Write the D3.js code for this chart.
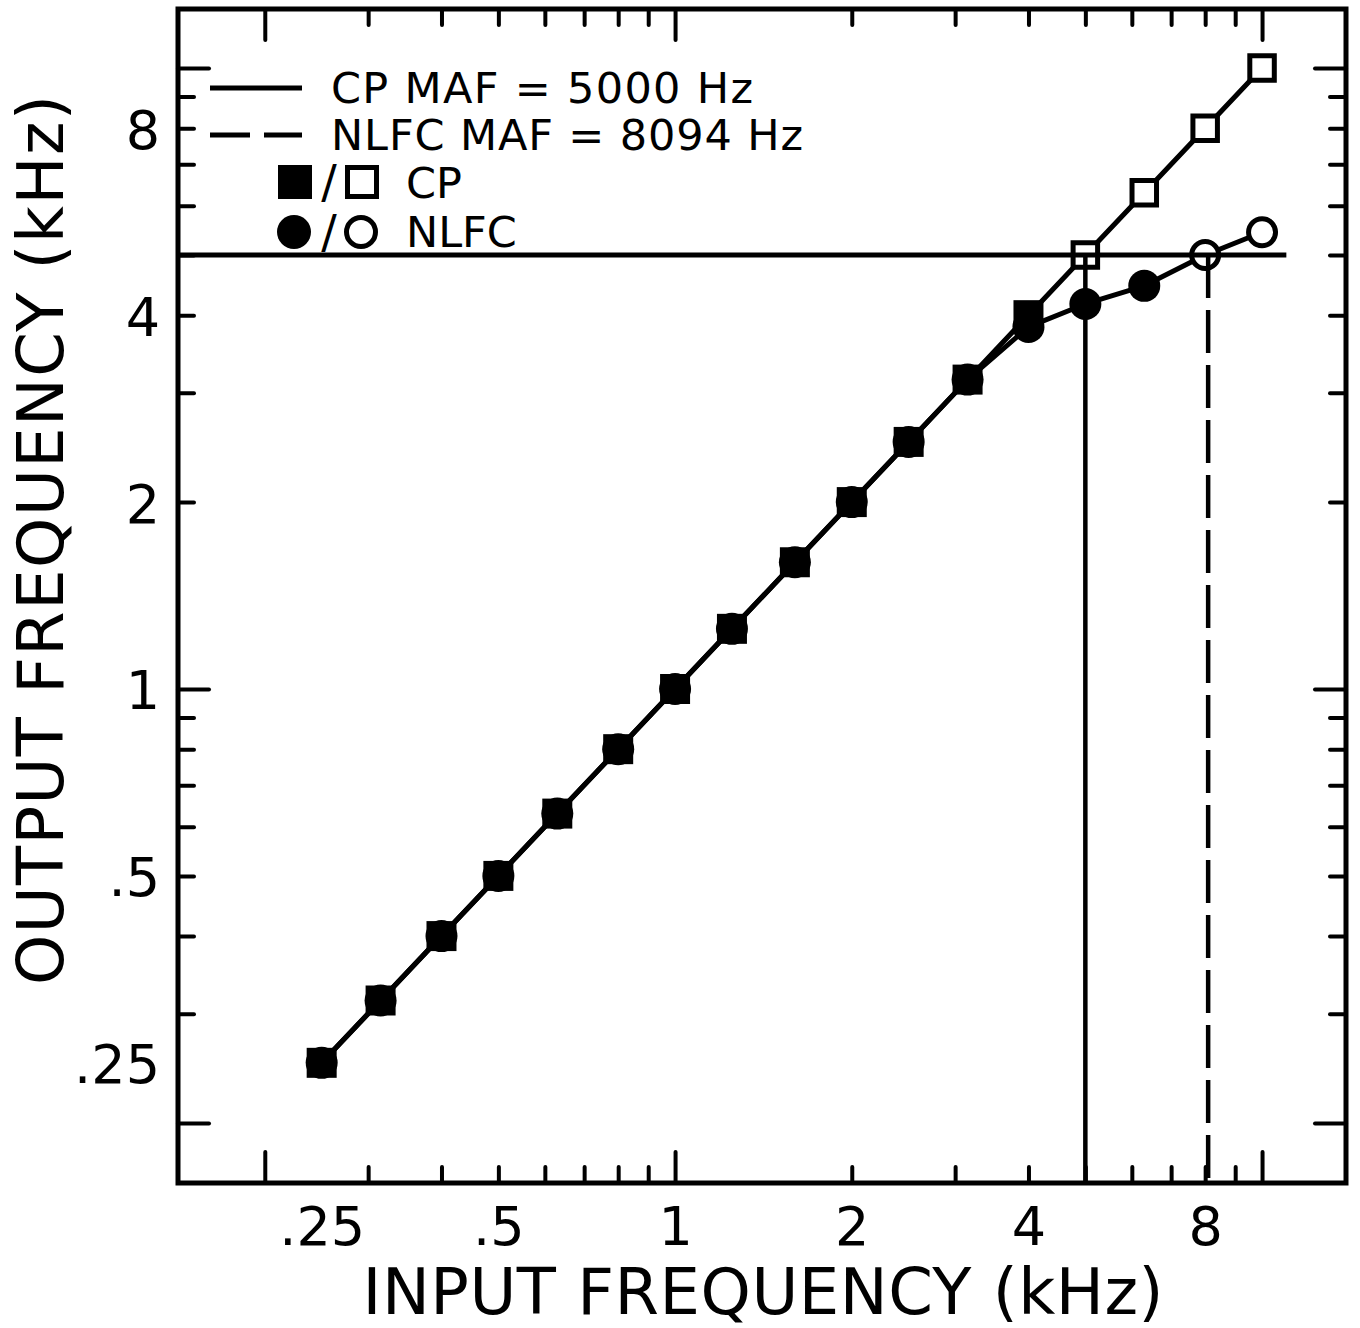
<!DOCTYPE html>
<html>
<head>
<meta charset="utf-8">
<script src="https://cdn.jsdelivr.net/npm/d3@7"></script>
<style>
  body { margin: 0; background: #fff; }
  text { font-family: 'DejaVu Sans', sans-serif; fill: #000; }
</style>
</head>
<body>
<div id="chart"></div>
<script>
// input frequencies (kHz), 1/3 octave
const inputFreq = [0.25, 0.315, 0.4, 0.5, 0.63, 0.8, 1, 1.25, 1.6, 2, 2.5, 3.15, 4, 5, 6.3, 8, 10]
// output frequencies (kHz)
const cpOutput = [0.25, 0.315, 0.4, 0.5, 0.63, 0.8, 1, 1.25, 1.6, 2, 2.5, 3.15, 4, 5, 6.3, 8, 10]
const nlfcOutput = [0.25, 0.315, 0.4, 0.5, 0.63, 0.8, 1, 1.25, 1.6, 2, 2.5, 3.15, 3.83, 4.17, 4.46, 5.0, 5.44]
// points from this input frequency on are drawn open
const cpOpenFrom = 5
const nlfcOpenFrom = 8

const cpMaf = 5
const nlfcMaf = 8.094
const refLineEnd = 11

const majorTicks = [0.2, 1, 10]
const minorTicks = [0.3, 0.4, 0.5, 0.6, 0.7, 0.8, 0.9, 2, 3, 4, 5, 6, 7, 8, 9]
const tickValues = [0.25, 0.5, 1, 2, 4, 8]
const tickLabels = ['.25', '.5', '1', '2', '4', '8']

const legendLines = ['CP MAF = 5000 Hz', 'NLFC MAF = 8094 Hz']
const legendSymbols = ['CP', 'NLFC']

const margin = { top: 9, left: 178, right: 14, bottom: 145 }
const width = 1360 - margin.left - margin.right
const height = 1328 - margin.top - margin.bottom

const svg = d3
  .select('#chart')
  .append('svg')
  .attr('width', 1360)
  .attr('height', 1328)

const g = svg
  .append('g')
  .attr('transform', 'translate(' + margin.left + ',' + margin.top + ')')

const x = d3.scaleLog().domain([0.14229, 13.9]).range([0, width])
const y = d3.scaleLog().domain([0.1601, 12.45]).range([height, 0])

const cp = inputFreq.map((f, i) => ({ f: f, o: cpOutput[i], open: f >= cpOpenFrom }))
const nlfc = inputFreq.map((f, i) => ({ f: f, o: nlfcOutput[i], open: f >= nlfcOpenFrom }))

// ticks on all four sides, pointing inwards
function ticks(axis, values, size, transform) {
  const a = g
    .append('g')
    .attr('transform', transform)
    .call(axis.tickValues(values).tickSize(-size).tickFormat(''))
  a.select('.domain').remove()
  a.selectAll('line')
    .attr('stroke', '#000')
    .attr('stroke-width', 4)
    .attr('stroke-linecap', 'round')
}
ticks(d3.axisBottom(x), majorTicks, 31, 'translate(0,' + height + ')')
ticks(d3.axisBottom(x), minorTicks, 16, 'translate(0,' + height + ')')
ticks(d3.axisTop(x), majorTicks, 31, 'translate(0,0)')
ticks(d3.axisTop(x), minorTicks, 16, 'translate(0,0)')
ticks(d3.axisLeft(y), majorTicks, 31, 'translate(0,0)')
ticks(d3.axisLeft(y), minorTicks, 16, 'translate(0,0)')
ticks(d3.axisRight(y), majorTicks, 31, 'translate(' + width + ',0)')
ticks(d3.axisRight(y), minorTicks, 16, 'translate(' + width + ',0)')

// tick labels
const xl = g
  .append('g')
  .attr('transform', 'translate(0,' + height + ')')
  .call(d3.axisBottom(x).tickValues(tickValues).tickSize(0).tickFormat((d, i) => tickLabels[i]))
xl.select('.domain').remove()
xl.selectAll('text')
  .attr('y', 62)
  .attr('dy', null)
  .style('font-size', '54px')
  .attr('fill', '#000')

const yl = g
  .append('g')
  .call(d3.axisLeft(y).tickValues(tickValues).tickSize(0).tickFormat((d, i) => tickLabels[i]))
yl.select('.domain').remove()
yl.selectAll('text')
  .attr('x', -18)
  .attr('y', 20)
  .attr('dy', null)
  .style('font-size', '54px')
  .attr('fill', '#000')

// frame
g.append('rect')
  .attr('width', width)
  .attr('height', height)
  .attr('fill', 'none')
  .attr('stroke', '#000')
  .attr('stroke-width', 5)

// data lines
const line = d3
  .line()
  .x(d => x(d.f))
  .y(d => y(d.o))

;[nlfc, cp].forEach(series => {
  g.append('path')
    .datum(series)
    .attr('d', line)
    .attr('fill', 'none')
    .attr('stroke', '#000')
    .attr('stroke-width', 5)
    .attr('stroke-linejoin', 'round')
})

// markers
const filledCircle = d3.symbol(d3.symbolCircle, Math.PI * 16 * 16)
const openCircle = d3.symbol(d3.symbolCircle, Math.PI * 13.5 * 13.5)
const filledSquare = d3.symbol(d3.symbolSquare, 30 * 30)
const openSquare = d3.symbol(d3.symbolSquare, 24.5 * 24.5)

g.selectAll('.nlfc')
  .data(nlfc)
  .enter()
  .append('path')
  .attr('class', 'nlfc')
  .attr('transform', d => 'translate(' + x(d.f) + ',' + y(d.o) + ')')
  .attr('d', d => (d.open ? openCircle() : filledCircle()))
  .attr('fill', d => (d.open ? '#fff' : '#000'))
  .attr('stroke', d => (d.open ? '#000' : 'none'))
  .attr('stroke-width', 5)

g.selectAll('.cp')
  .data(cp)
  .enter()
  .append('path')
  .attr('class', 'cp')
  .attr('transform', d => 'translate(' + x(d.f) + ',' + y(d.o) + ')')
  .attr('d', d => (d.open ? openSquare() : filledSquare()))
  .attr('fill', d => (d.open ? '#fff' : '#000'))
  .attr('stroke', d => (d.open ? '#000' : 'none'))
  .attr('stroke-width', 5)

// MAF reference lines
g.append('line')
  .attr('x1', 0)
  .attr('x2', x(refLineEnd))
  .attr('y1', y(cpMaf))
  .attr('y2', y(cpMaf))
  .attr('stroke', '#000')
  .attr('stroke-width', 5)

g.append('line')
  .attr('x1', x(cpMaf))
  .attr('x2', x(cpMaf))
  .attr('y1', y(cpMaf))
  .attr('y2', height)
  .attr('stroke', '#000')
  .attr('stroke-width', 4.5)

g.append('line')
  .attr('x1', x(nlfcMaf))
  .attr('x2', x(nlfcMaf))
  .attr('y1', y(cpMaf))
  .attr('y2', height)
  .attr('stroke', '#000')
  .attr('stroke-width', 4.5)
  .attr('stroke-dasharray', '43,12')

// legend
const legend = svg.append('g')

legend.append('line')
  .attr('x1', 210).attr('x2', 302).attr('y1', 88).attr('y2', 88)
  .attr('stroke', '#000').attr('stroke-width', 5)
legend.append('line')
  .attr('x1', 210).attr('x2', 302).attr('y1', 135).attr('y2', 135)
  .attr('stroke', '#000').attr('stroke-width', 5)
  .attr('stroke-dasharray', '40,14')

legend.append('text')
  .text(legendLines[0])
  .attr('x', 331).attr('y', 103)
  .attr('textLength', 422).attr('lengthAdjust', 'spacing')
  .style('font-size', '43px')
legend.append('text')
  .text(legendLines[1])
  .attr('x', 331).attr('y', 150)
  .attr('textLength', 472).attr('lengthAdjust', 'spacing')
  .style('font-size', '43px')

legend.append('rect')
  .attr('x', 278).attr('y', 165).attr('width', 34).attr('height', 34)
  .attr('fill', '#000')
legend.append('rect')
  .attr('x', 347.5).attr('y', 167.5).attr('width', 29).attr('height', 29)
  .attr('fill', 'none').attr('stroke', '#000').attr('stroke-width', 5)
legend.append('circle')
  .attr('cx', 294).attr('cy', 232).attr('r', 17)
  .attr('fill', '#000')
legend.append('circle')
  .attr('cx', 361).attr('cy', 232).attr('r', 14.5)
  .attr('fill', 'none').attr('stroke', '#000').attr('stroke-width', 5)

;[198, 248].forEach(yy => {
  legend.append('text')
    .text('/')
    .attr('x', 329).attr('y', yy)
    .attr('text-anchor', 'middle')
    .style('font-size', '46px')
})

legend.append('text')
  .text(legendSymbols[0])
  .attr('x', 406).attr('y', 198)
  .style('font-size', '43px')
legend.append('text')
  .text(legendSymbols[1])
  .attr('x', 406).attr('y', 247)
  .style('font-size', '43px')

// axis titles
svg.append('text')
  .text('INPUT FREQUENCY (kHz)')
  .attr('x', 763)
  .attr('y', 1314)
  .attr('text-anchor', 'middle')
  .attr('textLength', 801)
  .attr('lengthAdjust', 'spacing')
  .style('font-size', '64px')

svg.append('text')
  .text('OUTPUT FREQUENCY (kHz)')
  .attr('transform', 'translate(63,540) rotate(-90)')
  .attr('text-anchor', 'middle')
  .attr('textLength', 890)
  .attr('lengthAdjust', 'spacing')
  .style('font-size', '64px')
</script>
</body>
</html>
